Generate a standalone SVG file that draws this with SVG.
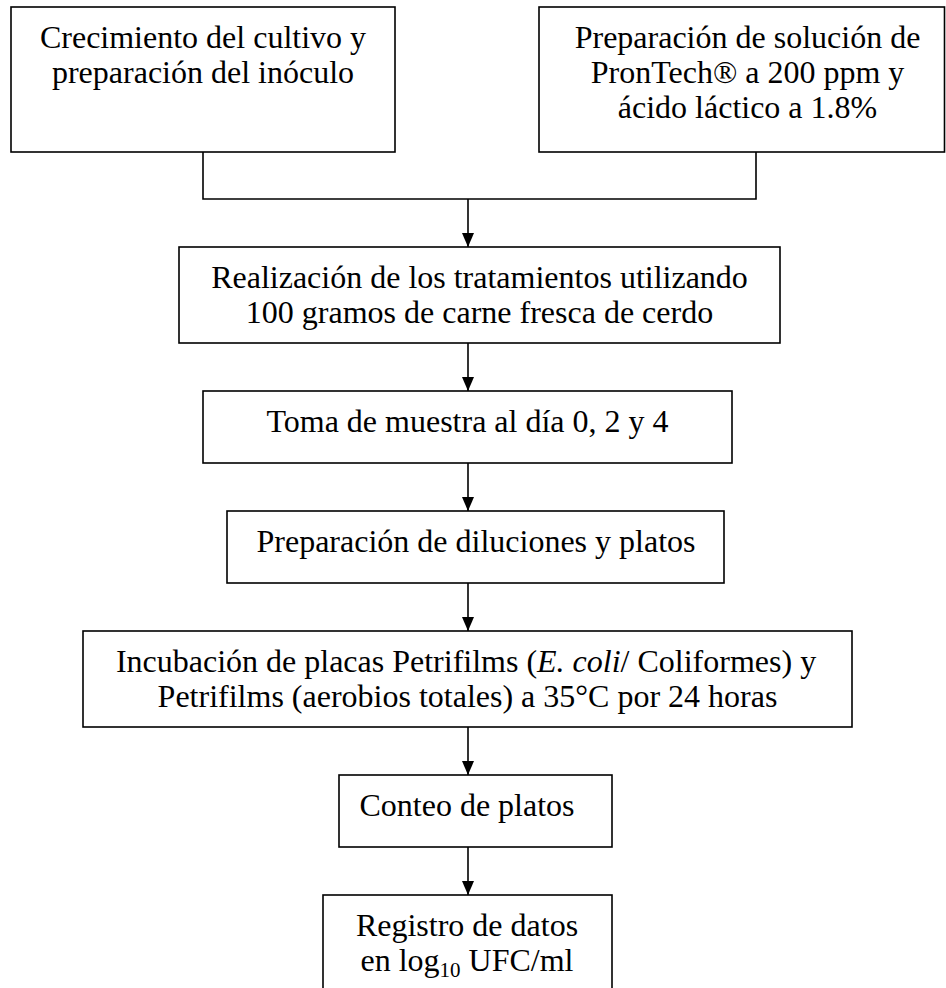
<svg xmlns="http://www.w3.org/2000/svg" width="946" height="988" viewBox="0 0 946 988">
<style>
.box{fill:#fff;stroke:#000;stroke-width:1.6}
.t{font-family:"Liberation Serif","Times New Roman",serif;font-size:32px;fill:#000;text-anchor:middle}
.c{fill:none;stroke:#000;stroke-width:1.6}
</style>
<defs>
<marker id="ah" markerWidth="14" markerHeight="12" refX="14" refY="6" orient="auto" markerUnits="userSpaceOnUse" viewBox="0 0 14 12">
<path d="M0,0 L14,6 L0,12 Z" fill="#000"/>
</marker>
</defs>
<rect width="946" height="988" fill="#fff"/>
<g id="n1">
<rect class="box" x="11" y="7" width="384" height="145"/>
<text class="t" x="203" y="48">Crecimiento del cultivo y</text>
<text class="t" x="203" y="83">preparación del inóculo</text>
</g>
<g id="n2">
<rect class="box" x="539" y="7" width="405.5" height="145"/>
<text class="t" x="747.5" y="48">Preparación de solución de</text>
<text class="t" x="747.5" y="83">PronTech® a 200 ppm y</text>
<text class="t" x="747.5" y="118">ácido láctico a 1.8%</text>
</g>
<g id="n3">
<rect class="box" x="179" y="247" width="601" height="96"/>
<text class="t" x="479.5" y="288">Realización de los tratamientos utilizando</text>
<text class="t" x="479.5" y="323">100 gramos de carne fresca de cerdo</text>
</g>
<g id="n4">
<rect class="box" x="203" y="391" width="529" height="72"/>
<text class="t" x="467.5" y="432">Toma de muestra al día 0, 2 y 4</text>
</g>
<g id="n5">
<rect class="box" x="227" y="511" width="497" height="72"/>
<text class="t" x="476" y="552">Preparación de diluciones y platos</text>
</g>
<g id="n6">
<rect class="box" x="83" y="631" width="769" height="96"/>
<text class="t" x="466" y="672">Incubación de placas Petrifilms (<tspan font-style="italic">E. coli</tspan>/ Coliformes) y</text>
<text class="t" x="467.5" y="707">Petrifilms (aerobios totales) a 35°C por 24 horas</text>
</g>
<g id="n7">
<rect class="box" x="339" y="775" width="273" height="72"/>
<text class="t" x="467" y="816">Conteo de platos</text>
</g>
<g id="n8">
<rect class="box" x="323" y="895" width="289" height="100"/>
<text class="t" x="467" y="936">Registro de datos</text>
<text class="t" x="467" y="971">en log<tspan font-size="21" dy="6">10</tspan><tspan dy="-6"> UFC/ml</tspan></text>
</g>
<g id="connectors">
<path class="c" d="M203,152 V199 H756 V152"/>
<path class="c" d="M468,199 V247" marker-end="url(#ah)"/>
<path class="c" d="M468,343 V391" marker-end="url(#ah)"/>
<path class="c" d="M468,463 V511" marker-end="url(#ah)"/>
<path class="c" d="M468,583 V631" marker-end="url(#ah)"/>
<path class="c" d="M468,727 V775" marker-end="url(#ah)"/>
<path class="c" d="M468,847 V895" marker-end="url(#ah)"/>
</g>
</svg>
